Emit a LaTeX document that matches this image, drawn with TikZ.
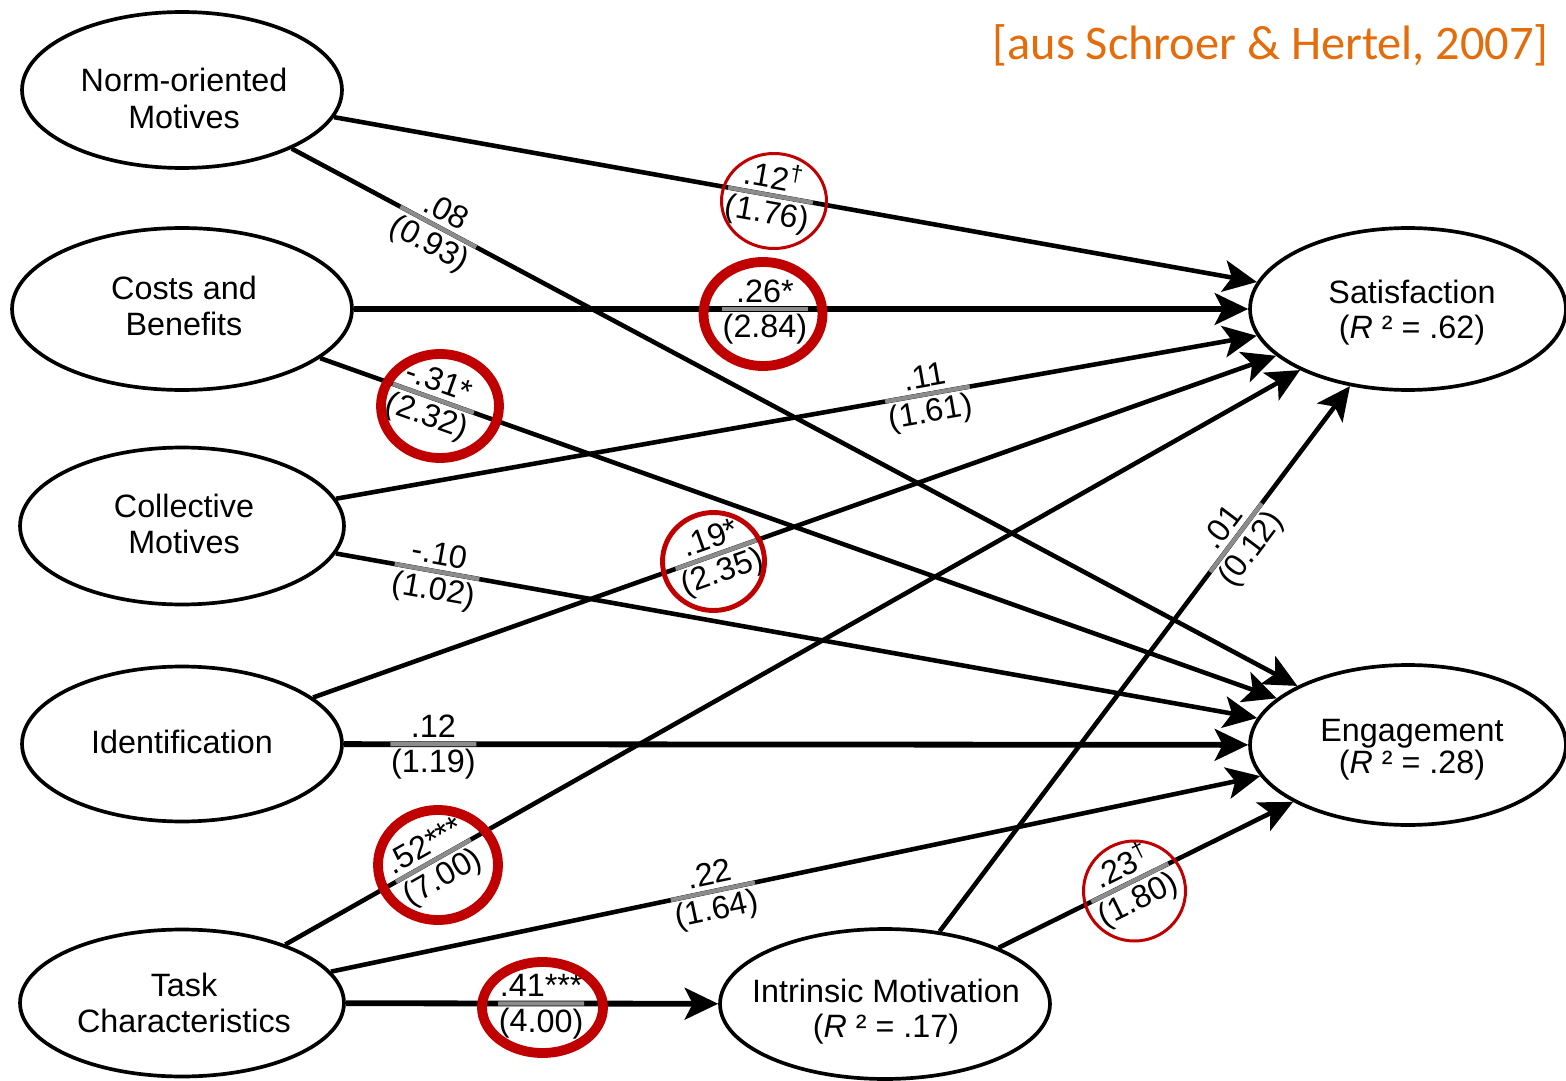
\documentclass[tikz,border=0pt]{standalone}
\usepackage{fontspec}
\setmainfont{Liberation Sans}
\newfontfamily\citefont{Carlito}
\usetikzlibrary{shapes.geometric,arrows.meta}
\definecolor{citeorange}{RGB}{228,108,10}
\definecolor{ringred}{RGB}{192,0,0}
\definecolor{segray}{RGB}{140,140,140}
\newcommand{\pathcoef}[5]{%
  \path (#1.center) -- (#2.center)
    node[pos=#3, sloped, segbar] (#1#2bar) {}
    node[pos=#3, sloped, above, toplab] (#1#2top) {#4}
    node[pos=#3, sloped, below, botlab] (#1#2bot) {#5};}
\begin{document}
\begin{tikzpicture}[x=0.02cm,y=-0.02cm,
  latent/.style={ellipse, draw, line width=2.1pt, inner sep=0pt},
  nodetext/.style={inner sep=0pt, align=center, font=\fontsize{18.4}{20}\selectfont},
  pathline/.style={line width=2.6pt, -{Stealth[length=19pt,width=18pt,inset=4.5pt]}},
  boldline/.style={pathline, line width=3.3pt},
  segbar/.style={fill=segray, inner sep=0pt, minimum width=1.72cm, minimum height=2.4pt},
  toplab/.style={inner xsep=0pt, inner ysep=3.6pt, font=\fontsize{18.4}{19.5}\selectfont},
  botlab/.style={inner xsep=0pt, inner ysep=2.7pt, font=\fontsize{18.4}{19.5}\selectfont},
  ringthick/.style={draw=ringred, line width=5.6pt},
  ringmid/.style={draw=ringred, line width=2.8pt},
  ringthin/.style={draw=ringred, line width=1.7pt}]
\useasboundingbox (0,0) rectangle (1566,1081);

\node[latent, minimum width=6.4cm, minimum height=3.12cm] (norm) at (182,90) {};
\node[latent, minimum width=6.8cm, minimum height=3.24cm] (cost) at (182,309) {};
\node[latent, minimum width=6.48cm, minimum height=3.14cm] (coll) at (182,526) {};
\node[latent, minimum width=6.4cm, minimum height=3.1cm] (iden) at (182,744) {};
\node[latent, minimum width=6.48cm, minimum height=2.94cm] (task) at (182,1003) {};
\node[latent, minimum width=6.6cm, minimum height=3.0cm] (intr) at (885,1004) {};
\node[latent, minimum width=6.32cm, minimum height=3.24cm] (sat) at (1408,309) {};
\node[latent, minimum width=6.32cm, minimum height=3.2cm] (eng) at (1408,745) {};

\node[nodetext, font=\fontsize{18.4}{21}\selectfont] (normtxt) at (184,98) {Norm-oriented\\Motives};
\node[nodetext] (costtxt) at (184,306) {Costs and\\Benefits};
\node[nodetext] (colltxt) at (184,524) {Collective\\Motives};
\node[nodetext] (identxt) at (182,742) {Identification};
\node[nodetext] (tasktxt) at (184,1003) {Task\\Characteristics};
\node[nodetext] (intrtxt) at (886,1012) {Intrinsic Motivation\\(\textit{R} ² = .17)};
\node[nodetext] (sattxt) at (1412,313) {Satisfaction\\(\textit{R} ² = .62)};
\node[nodetext, font=\fontsize{18.4}{18.3}\selectfont] (engtxt) at (1412,750) {Engagement\\(\textit{R} ² = .28)};

\node[font=\citefont\fontsize{27.5}{30}\selectfont, text=citeorange, anchor=base east, inner sep=0pt] (cite) at (1549,60) {[aus Schroer \& Hertel, 2007]};

\draw[pathline] (norm) -- (sat);
\draw[pathline] (norm) -- (eng);
\draw[boldline] (cost) -- (sat);
\draw[pathline] (cost) -- (eng);
\draw[pathline] (coll) -- (sat);
\draw[pathline] (coll) -- (eng);
\draw[pathline] (iden) -- (sat);
\draw[boldline] (iden) -- (eng);
\draw[pathline] (task) -- (sat);
\draw[pathline] (task) -- (eng);
\draw[boldline] (task) -- (intr);
\draw[pathline] (intr) -- (sat);
\draw[pathline] (intr) -- (eng);

\pathcoef{norm}{sat}{0.480}{.12\textsuperscript{†}}{(1.76)}
\pathcoef{norm}{eng}{0.209}{.08}{(0.93)}
\pathcoef{cost}{sat}{0.4755}{.26*}{(2.84)}
\pathcoef{cost}{eng}{0.205}{-.31*}{(2.32)}
\pathcoef{coll}{sat}{0.608}{.11}{(1.61)}
\pathcoef{coll}{eng}{0.208}{-.10}{(1.02)}
\pathcoef{iden}{sat}{0.4356}{.19*}{(2.35)}
\pathcoef{iden}{eng}{0.205}{.12}{(1.19)}
\pathcoef{task}{sat}{0.205}{.52***}{(7.00)}
\pathcoef{task}{eng}{0.433}{.22}{(1.64)}
\pathcoef{task}{intr}{0.511}{.41***}{(4.00)}
\pathcoef{intr}{sat}{0.671}{.01}{(0.12)}
\pathcoef{intr}{eng}{0.468}{.23\textsuperscript{†}}{(1.80)}

\draw[ringthin] (774,201) ellipse [x radius=52.5, y radius=47.5];
\draw[ringthick] (763,314) ellipse [x radius=59.5, y radius=52];
\draw[ringthick] (440,406) ellipse [x radius=59, y radius=52];
\draw[ringmid] (713.5,561.5) ellipse [x radius=51, y radius=49];
\draw[ringthick] (438,865) ellipse [x radius=60, y radius=55];
\draw[ringthick] (542.5,1007.5) ellipse [x radius=60.5, y radius=45.5];
\draw[ringthin] (1134.5,891) ellipse [x radius=51, y radius=50];
\end{tikzpicture}
\end{document}
